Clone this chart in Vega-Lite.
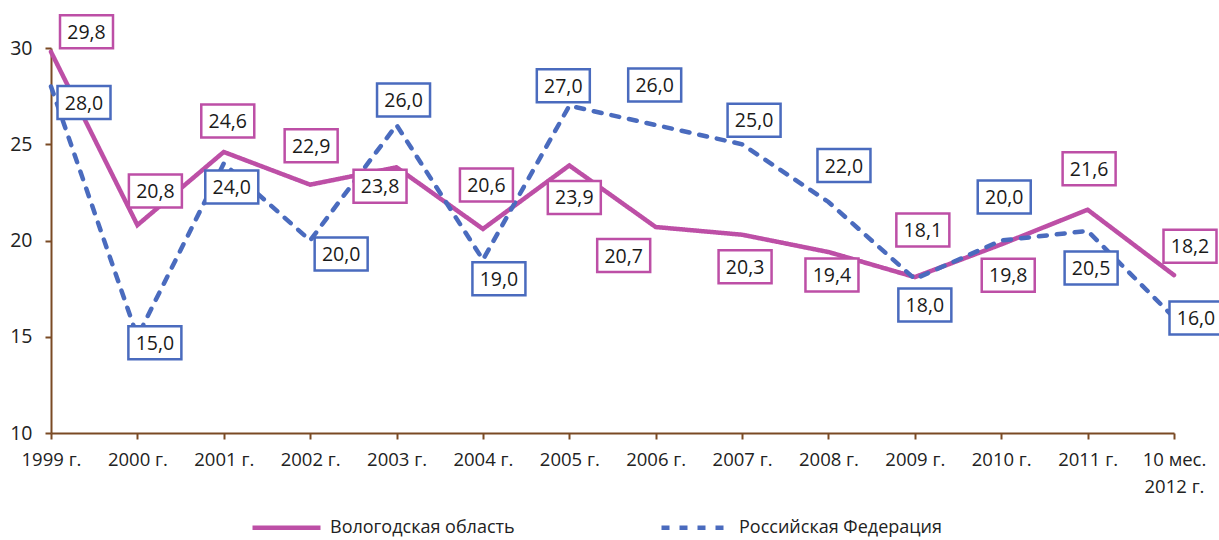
{
  "$schema": "https://vega.github.io/schema/vega-lite/v6.json",
  "width": 1123,
  "height": 385,
  "autosize": {"type": "none"},
  "padding": {"left": 51, "top": 48, "right": 45, "bottom": 107},
  "background": "white",
  "config": {
    "font": "Open Sans",
    "view": {"stroke": null},
    "locale": {"number": {"decimal": ",", "thousands": "\u00a0", "grouping": [3], "currency": ["", ""]}}
  },
  "params": [
    {"name": "off", "value": {
      "Вологодская область": {
        "1999 г.": [35.5, -20], "2000 г.": [18, -34], "2001 г.": [4, -31], "2002 г.": [1, -39],
        "2003 г.": [-16.5, 19], "2004 г.": [3.5, -44], "2005 г.": [5, 32], "2006 г.": [-32, 28.5],
        "2007 г.": [3, 32], "2008 г.": [3.5, 23], "2009 г.": [8, -47], "2010 г.": [7, 31],
        "2011 г.": [1.5, -41], "10 мес. 2012 г.": [16, -29]
      },
      "Российская Федерация": {
        "1999 г.": [33, 16], "2000 г.": [17.5, 6], "2001 г.": [8, 23.5], "2002 г.": [31, 13.5],
        "2003 г.": [7, -25], "2004 г.": [16, 19], "2005 г.": [-6, -20], "2006 г.": [-1, -40],
        "2007 г.": [12, -24], "2008 г.": [15.5, -36.5], "2009 г.": [10, 26], "2010 г.": [3, -43.5],
        "2011 г.": [3.5, 37], "10 мес. 2012 г.": [22, 0.5]
      }
    }}
  ],
  "data": {"values": [
    {"year": "1999 г.", "series": "Вологодская область", "value": 29.8},
    {"year": "2000 г.", "series": "Вологодская область", "value": 20.8},
    {"year": "2001 г.", "series": "Вологодская область", "value": 24.6},
    {"year": "2002 г.", "series": "Вологодская область", "value": 22.9},
    {"year": "2003 г.", "series": "Вологодская область", "value": 23.8},
    {"year": "2004 г.", "series": "Вологодская область", "value": 20.6},
    {"year": "2005 г.", "series": "Вологодская область", "value": 23.9},
    {"year": "2006 г.", "series": "Вологодская область", "value": 20.7},
    {"year": "2007 г.", "series": "Вологодская область", "value": 20.3},
    {"year": "2008 г.", "series": "Вологодская область", "value": 19.4},
    {"year": "2009 г.", "series": "Вологодская область", "value": 18.1},
    {"year": "2010 г.", "series": "Вологодская область", "value": 19.8},
    {"year": "2011 г.", "series": "Вологодская область", "value": 21.6},
    {"year": "10 мес. 2012 г.", "series": "Вологодская область", "value": 18.2},
    {"year": "1999 г.", "series": "Российская Федерация", "value": 28.0},
    {"year": "2000 г.", "series": "Российская Федерация", "value": 15.0},
    {"year": "2001 г.", "series": "Российская Федерация", "value": 24.0},
    {"year": "2002 г.", "series": "Российская Федерация", "value": 20.0},
    {"year": "2003 г.", "series": "Российская Федерация", "value": 26.0},
    {"year": "2004 г.", "series": "Российская Федерация", "value": 19.0},
    {"year": "2005 г.", "series": "Российская Федерация", "value": 27.0},
    {"year": "2006 г.", "series": "Российская Федерация", "value": 26.0},
    {"year": "2007 г.", "series": "Российская Федерация", "value": 25.0},
    {"year": "2008 г.", "series": "Российская Федерация", "value": 22.0},
    {"year": "2009 г.", "series": "Российская Федерация", "value": 18.0},
    {"year": "2010 г.", "series": "Российская Федерация", "value": 20.0},
    {"year": "2011 г.", "series": "Российская Федерация", "value": 20.5},
    {"year": "10 мес. 2012 г.", "series": "Российская Федерация", "value": 16.0}
  ]},
  "encoding": {
    "x": {
      "field": "year", "type": "ordinal", "sort": null,
      "scale": {"type": "point", "padding": 0},
      "axis": {
        "title": null, "labelAngle": 0, "labelFontSize": 18.5, "labelColor": "#222222",
        "domainColor": "#7a4a24", "domainWidth": 2, "tickColor": "#7a4a24", "tickWidth": 2, "tickSize": 6,
        "labelPadding": 11, "labelLineHeight": 27, "labelBaseline": "top",
        "labelExpr": "datum.value == '10 мес. 2012 г.' ? ['10 мес.', '2012 г.'] : datum.value"
      }
    },
    "y": {
      "field": "value", "type": "quantitative",
      "scale": {"domain": [10, 30], "nice": false, "zero": false},
      "axis": {
        "title": null, "values": [10, 15, 20, 25, 30], "grid": false, "labelFontSize": 19.5, "labelColor": "#222222",
        "domainColor": "#7a4a24", "domainWidth": 2, "tickColor": "#7a4a24", "tickWidth": 2, "tickSize": 6,
        "labelPadding": 13
      }
    }
  },
  "layer": [
    {
      "mark": {"type": "line", "strokeWidth": 4.5, "strokeCap": "round", "strokeJoin": "miter"},
      "encoding": {
        "color": {
          "field": "series", "type": "nominal",
          "scale": {"domain": ["Вологодская область", "Российская Федерация"], "range": ["#BD4FA6", "#4A6BBE"]},
          "legend": {
            "title": null, "orient": "none", "legendX": 199, "legendY": 443, "direction": "horizontal",
            "symbolType": "stroke", "symbolSize": 4624, "symbolStrokeWidth": 4.5,
            "labelFontSize": 18, "labelColor": "#222222", "labelOffset": 7, "columnPadding": 137, "labelLimit": 400
          }
        },
        "strokeDash": {
          "field": "series", "type": "nominal",
          "scale": {"domain": ["Вологодская область", "Российская Федерация"], "range": [[1, 0], [8, 10]]},
          "legend": null
        }
      }
    },
    {
      "mark": {
        "type": "point", "filled": true, "fill": "white", "opacity": 1, "size": 4, "strokeWidth": 2.5,
        "shape": {"expr": "'M'+(off[datum.series][datum.year][0]-26.5)+','+(off[datum.series][datum.year][1]-16.5)+'L'+(off[datum.series][datum.year][0]+26.5)+','+(off[datum.series][datum.year][1]-16.5)+'L'+(off[datum.series][datum.year][0]+26.5)+','+(off[datum.series][datum.year][1]+16.5)+'L'+(off[datum.series][datum.year][0]-26.5)+','+(off[datum.series][datum.year][1]+16.5)+'Z'"}
      },
      "encoding": {
        "stroke": {
          "field": "series", "type": "nominal",
          "scale": {"domain": ["Вологодская область", "Российская Федерация"], "range": ["#BD4FA6", "#4A6BBE"]},
          "legend": null
        }
      }
    },
    {
      "mark": {
        "type": "text", "fontSize": 19.5, "color": "#1a1a1a", "align": "center", "baseline": "middle",
        "dx": {"expr": "off[datum.series][datum.year][0]"},
        "dy": {"expr": "off[datum.series][datum.year][1] + 1"}
      },
      "encoding": {
        "text": {"field": "value", "type": "quantitative", "format": ".1f"}
      }
    }
  ]
}
